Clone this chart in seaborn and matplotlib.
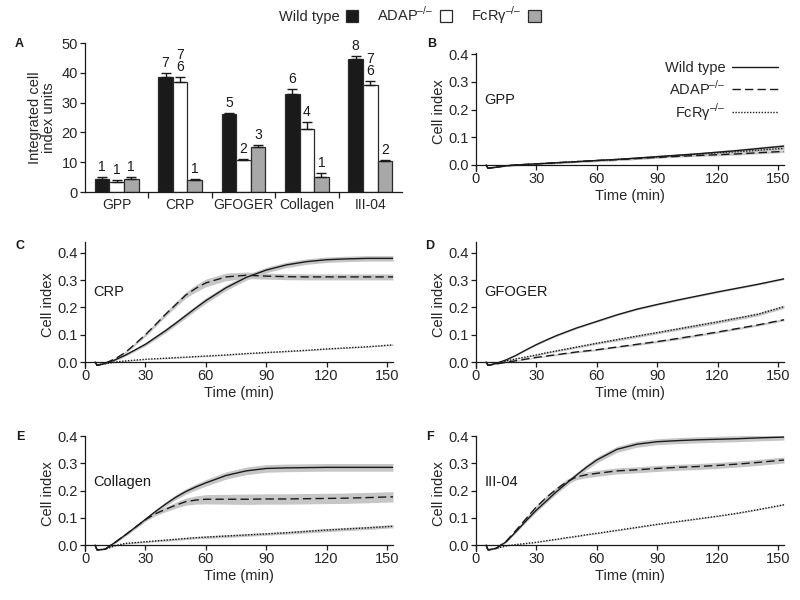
import matplotlib
matplotlib.use('Agg')
import numpy as np
import pandas as pd
import matplotlib.pyplot as plt
from matplotlib.lines import Line2D
from matplotlib.patches import Patch
import seaborn as sns

sns.set_style('ticks')
plt.rcParams['font.family'] = ['Liberation Sans', 'DejaVu Sans']
plt.rcParams['mathtext.fontset'] = 'custom'
plt.rcParams['mathtext.rm'] = 'Liberation Sans'

SUP = '$^{\\mathregular{\u2013/\u2013}}$'
GENOTYPES = ['Wild type', 'ADAP', 'FcRg']
LEGEND_LABELS = ['Wild type', 'ADAP' + SUP, 'FcR\u03b3' + SUP]

# ---- panel A: integrated cell index
SUBSTRATES = ['GPP', 'CRP', 'GFOGER', 'Collagen', 'III-04']
BAR_WT = [4.5, 38.5, 26.2, 32.8, 44.5]
BAR_ADAP = [3.4, 36.8, 10.7, 21.0, 35.9]
BAR_FCR = [4.5, 4.0, 15.2, 5.2, 10.5]
ERR_WT = [0.7, 1.5, 0.3, 1.7, 1.0]
ERR_ADAP = [0.6, 1.7, 0.4, 2.6, 1.4]
ERR_FCR = [0.6, 0.3, 0.7, 1.2, 0.3]
N_WT = ['1', '7', '5', '6', '8']
N_ADAP = ['1', '7\n6', '2', '4', '7\n6']
N_FCR = ['1', '1', '3', '1', '2']

# ---- panels B-F: cell index time courses
TIME = [5, 6, 10, 15, 20, 25, 30, 35, 40, 45, 50, 55, 60, 70, 80, 90, 100, 110, 120, 130, 140, 153]

GPP_WT = [0, -0.012, -0.008, -0.003, 0.0, 0.002, 0.004, 0.006, 0.008, 0.010, 0.012, 0.014, 0.016, 0.020, 0.025, 0.030, 0.035, 0.040, 0.046, 0.052, 0.059, 0.068]
GPP_ADAP = [0, -0.012, -0.008, -0.003, 0.0, 0.002, 0.004, 0.006, 0.008, 0.010, 0.012, 0.014, 0.016, 0.019, 0.023, 0.027, 0.031, 0.034, 0.037, 0.040, 0.044, 0.049]
GPP_FCR = [0, -0.012, -0.008, -0.003, 0.0, 0.002, 0.004, 0.006, 0.008, 0.010, 0.012, 0.014, 0.016, 0.020, 0.024, 0.029, 0.034, 0.039, 0.044, 0.048, 0.053, 0.060]
GPP_WT_SEM = [0, 0.001, 0.001, 0.002, 0.002, 0.002, 0.003, 0.003, 0.003, 0.003, 0.003, 0.004, 0.004, 0.004, 0.004, 0.005, 0.005, 0.005, 0.005, 0.006, 0.006, 0.006]
GPP_ADAP_SEM = [0, 0.001, 0.001, 0.001, 0.002, 0.002, 0.002, 0.002, 0.002, 0.002, 0.003, 0.003, 0.003, 0.003, 0.003, 0.003, 0.003, 0.003, 0.004, 0.004, 0.004, 0.004]
GPP_FCR_SEM = [0, 0.001, 0.001, 0.002, 0.002, 0.002, 0.002, 0.003, 0.003, 0.003, 0.003, 0.003, 0.003, 0.004, 0.004, 0.004, 0.004, 0.005, 0.005, 0.005, 0.005, 0.005]

CRP_WT = [0, -0.012, -0.005, 0.008, 0.025, 0.045, 0.065, 0.090, 0.115, 0.142, 0.170, 0.198, 0.225, 0.272, 0.310, 0.337, 0.356, 0.368, 0.375, 0.378, 0.380, 0.380]
CRP_ADAP = [0, -0.012, -0.004, 0.012, 0.035, 0.067, 0.100, 0.137, 0.175, 0.210, 0.245, 0.270, 0.290, 0.312, 0.318, 0.315, 0.313, 0.312, 0.312, 0.312, 0.312, 0.312]
CRP_FCR = [0, -0.012, -0.006, 0.0, 0.004, 0.007, 0.010, 0.012, 0.014, 0.016, 0.018, 0.020, 0.022, 0.026, 0.031, 0.035, 0.039, 0.043, 0.048, 0.052, 0.056, 0.063]
CRP_WT_SEM = [0, 0.001, 0.002, 0.003, 0.004, 0.005, 0.006, 0.007, 0.008, 0.008, 0.009, 0.009, 0.010, 0.010, 0.010, 0.010, 0.010, 0.010, 0.010, 0.010, 0.010, 0.010]
CRP_ADAP_SEM = [0, 0.001, 0.002, 0.003, 0.004, 0.005, 0.006, 0.007, 0.008, 0.009, 0.011, 0.013, 0.014, 0.014, 0.012, 0.011, 0.011, 0.011, 0.011, 0.011, 0.011, 0.011]
CRP_FCR_SEM = [0, 0.001, 0.001, 0.001, 0.001, 0.001, 0.001, 0.001, 0.002, 0.002, 0.002, 0.002, 0.002, 0.002, 0.002, 0.002, 0.002, 0.002, 0.002, 0.002, 0.002, 0.002]

GFOGER_WT = [0, -0.012, -0.005, 0.008, 0.025, 0.045, 0.064, 0.081, 0.097, 0.111, 0.125, 0.137, 0.149, 0.173, 0.194, 0.211, 0.227, 0.242, 0.257, 0.271, 0.285, 0.305]
GFOGER_ADAP = [0, -0.012, -0.007, -0.001, 0.005, 0.011, 0.017, 0.022, 0.027, 0.032, 0.037, 0.041, 0.045, 0.055, 0.065, 0.075, 0.086, 0.098, 0.110, 0.123, 0.136, 0.155]
GFOGER_FCR = [0, -0.012, -0.005, 0.004, 0.012, 0.019, 0.026, 0.034, 0.041, 0.048, 0.055, 0.062, 0.069, 0.082, 0.095, 0.108, 0.121, 0.134, 0.147, 0.161, 0.175, 0.203]
GFOGER_WT_SEM = [0, 0.001, 0.001, 0.002, 0.002, 0.002, 0.003, 0.003, 0.003, 0.003, 0.003, 0.003, 0.003, 0.003, 0.003, 0.003, 0.003, 0.003, 0.003, 0.003, 0.003, 0.003]
GFOGER_ADAP_SEM = [0, 0.001, 0.001, 0.001, 0.002, 0.002, 0.002, 0.002, 0.003, 0.003, 0.003, 0.003, 0.003, 0.003, 0.004, 0.004, 0.004, 0.004, 0.004, 0.004, 0.004, 0.004]
GFOGER_FCR_SEM = [0, 0.001, 0.001, 0.002, 0.002, 0.002, 0.003, 0.003, 0.003, 0.004, 0.004, 0.004, 0.004, 0.005, 0.005, 0.005, 0.005, 0.006, 0.006, 0.006, 0.006, 0.006]

COLLAGEN_WT = [0, -0.018, -0.015, 0.010, 0.037, 0.065, 0.094, 0.123, 0.150, 0.175, 0.196, 0.213, 0.228, 0.255, 0.272, 0.281, 0.283, 0.284, 0.285, 0.285, 0.285, 0.285]
COLLAGEN_ADAP = [0, -0.018, -0.015, 0.010, 0.037, 0.065, 0.093, 0.115, 0.131, 0.146, 0.159, 0.165, 0.168, 0.168, 0.168, 0.169, 0.169, 0.170, 0.171, 0.172, 0.174, 0.177]
COLLAGEN_FCR = [0, -0.018, -0.015, -0.002, 0.006, 0.009, 0.012, 0.015, 0.018, 0.021, 0.024, 0.027, 0.029, 0.033, 0.037, 0.041, 0.045, 0.050, 0.055, 0.059, 0.063, 0.069]
COLLAGEN_WT_SEM = [0, 0.001, 0.002, 0.003, 0.004, 0.005, 0.006, 0.007, 0.008, 0.009, 0.010, 0.011, 0.012, 0.013, 0.014, 0.014, 0.014, 0.014, 0.014, 0.014, 0.014, 0.014]
COLLAGEN_ADAP_SEM = [0, 0.001, 0.002, 0.003, 0.004, 0.005, 0.006, 0.007, 0.009, 0.011, 0.013, 0.015, 0.017, 0.018, 0.019, 0.019, 0.019, 0.019, 0.019, 0.019, 0.019, 0.019]
COLLAGEN_FCR_SEM = [0, 0.001, 0.001, 0.002, 0.002, 0.003, 0.003, 0.003, 0.004, 0.004, 0.004, 0.004, 0.005, 0.005, 0.005, 0.005, 0.005, 0.006, 0.006, 0.006, 0.006, 0.006]

III04_WT = [0, -0.018, -0.012, 0.012, 0.050, 0.090, 0.128, 0.162, 0.196, 0.227, 0.257, 0.286, 0.312, 0.351, 0.370, 0.379, 0.383, 0.386, 0.388, 0.390, 0.393, 0.396]
III04_ADAP = [0, -0.018, -0.012, 0.014, 0.055, 0.098, 0.140, 0.175, 0.205, 0.232, 0.250, 0.258, 0.263, 0.272, 0.276, 0.281, 0.285, 0.288, 0.292, 0.297, 0.303, 0.312]
III04_FCR = [0, -0.018, -0.012, -0.003, 0.002, 0.006, 0.010, 0.016, 0.021, 0.027, 0.032, 0.038, 0.043, 0.054, 0.065, 0.076, 0.086, 0.096, 0.106, 0.117, 0.130, 0.148]
III04_WT_SEM = [0, 0.001, 0.002, 0.003, 0.004, 0.005, 0.006, 0.007, 0.008, 0.009, 0.010, 0.010, 0.011, 0.011, 0.011, 0.011, 0.011, 0.011, 0.011, 0.011, 0.011, 0.011]
III04_ADAP_SEM = [0, 0.001, 0.002, 0.003, 0.004, 0.005, 0.006, 0.007, 0.008, 0.009, 0.010, 0.011, 0.011, 0.011, 0.011, 0.011, 0.011, 0.011, 0.011, 0.011, 0.011, 0.011]
III04_FCR_SEM = [0, 0.001, 0.001, 0.001, 0.001, 0.001, 0.001, 0.002, 0.002, 0.002, 0.002, 0.002, 0.002, 0.002, 0.002, 0.002, 0.002, 0.002, 0.002, 0.002, 0.002, 0.002]

INK = '#1a1a1a'
BAR_COLORS = ['#1a1a1a', '#ffffff', '#a8a8a8']
BAND = '#c6c6c6'
DASHES = {'Wild type': '', 'ADAP': (6, 3), 'FcRg': (1, 1.1)}


def style_axis(ax):
    ax.tick_params(direction='out', length=3.5, width=0.9, pad=1.5, labelsize=10.5, color=INK)
    for s in ['left', 'bottom']:
        ax.spines[s].set_linewidth(0.9)
        ax.spines[s].set_color(INK)
    sns.despine(ax=ax)


def bar_panel(ax):
    df = pd.DataFrame({
        'substrate': SUBSTRATES * 3,
        'genotype': [g for g in GENOTYPES for _ in SUBSTRATES],
        'value': BAR_WT + BAR_ADAP + BAR_FCR,
    })
    sns.barplot(data=df, x='substrate', y='value', hue='genotype', hue_order=GENOTYPES,
                palette=BAR_COLORS, saturation=1, width=0.69, errorbar=None,
                edgecolor='#2a2a2a', linewidth=0.9, legend=False, ax=ax)
    errs = [ERR_WT, ERR_ADAP, ERR_FCR]
    ns = [N_WT, N_ADAP, N_FCR]
    for cont, err, n in zip(ax.containers, errs, ns):
        for bar, e, lab in zip(cont, err, n):
            x = bar.get_x() + bar.get_width() / 2
            top = bar.get_height()
            ax.errorbar(x, top, yerr=[[0], [e]], fmt='none', ecolor=INK,
                        elinewidth=1.0, capsize=3.5, capthick=1.0, zorder=1)
            ax.text(x, top + e + 1.0, lab, ha='center', va='bottom', fontsize=10,
                    linespacing=0.85, color=INK)
    ax.set_xlim(-0.5, 4.5)
    ax.set_ylim(0, 50)
    ax.set_yticks([0, 10, 20, 30, 40, 50])
    ax.set_xlabel('')
    ax.set_ylabel('Integrated cell\nindex units', fontsize=10.5, linespacing=1.0, labelpad=4)
    style_axis(ax)
    ax.tick_params(axis='y', labelsize=10.5)
    ax.tick_params(axis='x', which='major', length=0, labelsize=10, pad=4)
    ax.set_xticks([0.5, 1.5, 2.5, 3.5], minor=True)
    ax.tick_params(axis='x', which='minor', direction='out', length=4, width=0.9, color=INK)


def line_panel(ax, name, curves, sems, top):
    df = pd.DataFrame({
        'time': TIME * 3,
        'genotype': [g for g in GENOTYPES for _ in TIME],
        'value': curves[0] + curves[1] + curves[2],
    })
    for c, s in zip(curves, sems):
        c = np.array(c)
        s = np.array(s)
        ax.fill_between(TIME, c - s, c + s, color=BAND, linewidth=0, zorder=1)
    sns.lineplot(data=df, x='time', y='value', style='genotype', style_order=GENOTYPES,
                 dashes=DASHES, color=INK, linewidth=1.0, errorbar=None,
                 legend=False, ax=ax, zorder=3)
    ax.set_xlim(0, 153)
    ax.set_ylim(-0.02, top)
    ax.set_xticks([0, 30, 60, 90, 120, 150])
    ax.set_yticks([0.0, 0.1, 0.2, 0.3, 0.4])
    ax.yaxis.set_major_formatter(matplotlib.ticker.FormatStrFormatter('%.1f'))
    ax.spines['bottom'].set_position(('data', 0))
    ax.set_xlabel('Time (min)', fontsize=10.5, labelpad=2)
    ax.set_ylabel('Cell index', fontsize=10.5, labelpad=2)
    style_axis(ax)
    ax.text(0.028, 0.6, name, transform=ax.transAxes, fontsize=10.5, va='center', color=INK)


fig = plt.figure(figsize=(8, 6), dpi=100)

def px_axes(left, top, right, bottom):
    return fig.add_axes([left / 800, 1 - bottom / 600, (right - left) / 800, (bottom - top) / 600])

axA = px_axes(85, 43, 402, 192)
axB = px_axes(476, 53, 784, 170.5)
axC = px_axes(85, 242, 393, 367.5)
axD = px_axes(476, 242, 784, 367.5)
axE = px_axes(85, 436, 393, 550.5)
axF = px_axes(476, 436, 784, 550.5)

bar_panel(axA)
line_panel(axB, 'GPP', [GPP_WT, GPP_ADAP, GPP_FCR], [GPP_WT_SEM, GPP_ADAP_SEM, GPP_FCR_SEM], 0.404)
line_panel(axC, 'CRP', [CRP_WT, CRP_ADAP, CRP_FCR], [CRP_WT_SEM, CRP_ADAP_SEM, CRP_FCR_SEM], 0.44)
line_panel(axD, 'GFOGER', [GFOGER_WT, GFOGER_ADAP, GFOGER_FCR], [GFOGER_WT_SEM, GFOGER_ADAP_SEM, GFOGER_FCR_SEM], 0.44)
line_panel(axE, 'Collagen', [COLLAGEN_WT, COLLAGEN_ADAP, COLLAGEN_FCR], [COLLAGEN_WT_SEM, COLLAGEN_ADAP_SEM, COLLAGEN_FCR_SEM], 0.40)
line_panel(axF, 'III-04', [III04_WT, III04_ADAP, III04_FCR], [III04_WT_SEM, III04_ADAP_SEM, III04_FCR_SEM], 0.40)

# legend inside B (labels before the line samples)
line_handles = [Line2D([], [], color=INK, lw=1.0, linestyle='-'),
                Line2D([], [], color=INK, lw=1.0, dashes=(6, 3)),
                Line2D([], [], color=INK, lw=1.0, dashes=(1, 1.1))]
axB.legend(line_handles, LEGEND_LABELS, loc='upper right', bbox_to_anchor=(1.0, 0.98),
           frameon=False, markerfirst=False, fontsize=10.5, handlelength=3.2,
           handletextpad=0.4, labelspacing=0.25, borderaxespad=0)

# figure-level legend for the bars
box_handles = [Patch(facecolor=c, edgecolor='#2a2a2a', linewidth=0.9) for c in BAR_COLORS]
fig.legend(box_handles, LEGEND_LABELS, loc='center', bbox_to_anchor=(0.512, 0.974), ncol=3,
           frameon=False, markerfirst=False, fontsize=10.5, handlelength=0.85, handleheight=0.85,
           handletextpad=0.45, columnspacing=1.3)

for letter, x, y in [('A', 15, 44), ('B', 427, 44), ('C', 15, 246), ('D', 425, 246),
                     ('E', 16, 437), ('F', 426, 437)]:
    fig.text(x / 800, 1 - y / 600, letter, fontsize=9, fontweight='bold', va='center', color=INK)

fig.savefig('out.png', dpi=100)
